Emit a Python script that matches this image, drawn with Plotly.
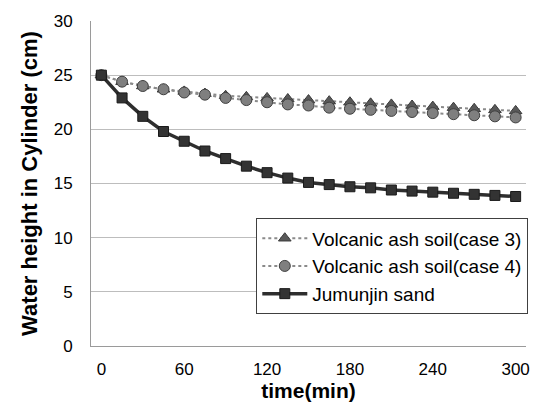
import plotly.graph_objects as go

time_min = [0, 15, 30, 45, 60, 75, 90, 105, 120, 135, 150, 165, 180, 195, 210, 225, 240, 255, 270, 285, 300]
case3 = [25.0, 24.4, 24.0, 23.7, 23.5, 23.3, 23.1, 23.0, 22.9, 22.8, 22.7, 22.6, 22.5, 22.4, 22.3, 22.2, 22.1, 22.0, 21.9, 21.8, 21.7]
case4 = [25.0, 24.4, 24.0, 23.7, 23.4, 23.2, 22.9, 22.7, 22.5, 22.3, 22.2, 22.0, 21.9, 21.8, 21.7, 21.6, 21.5, 21.4, 21.3, 21.2, 21.1]
jumunjin = [25.0, 22.9, 21.2, 19.8, 18.9, 18.0, 17.3, 16.6, 16.0, 15.5, 15.1, 14.9, 14.7, 14.6, 14.4, 14.3, 14.2, 14.1, 14.0, 13.9, 13.8]
x_ticks = [0, 60, 120, 180, 240, 300]
y_ticks = [0, 5, 10, 15, 20, 25, 30]

fig = go.Figure()
fig.add_trace(go.Scatter(
    x=time_min, y=case3, name="Volcanic ash soil(case 3)", mode="lines+markers",
    line=dict(color="#8a8a8a", width=2, dash="dot"),
    marker=dict(symbol="triangle-up", size=11, color="#595959", line=dict(color="#3a3a3a", width=1)),
))
fig.add_trace(go.Scatter(
    x=time_min, y=case4, name="Volcanic ash soil(case 4)", mode="lines+markers",
    line=dict(color="#8a8a8a", width=2, dash="dot"),
    marker=dict(symbol="circle", size=11, color="#7f7f7f", line=dict(color="#404040", width=1)),
))
fig.add_trace(go.Scatter(
    x=time_min, y=jumunjin, name="Jumunjin sand", mode="lines+markers",
    line=dict(color="#2e2e2e", width=3.5),
    marker=dict(symbol="square", size=10, color="#333333", line=dict(color="#1a1a1a", width=1)),
))

fig.update_layout(
    width=537, height=406,
    margin=dict(l=91, r=7, t=21, b=60),
    paper_bgcolor="white", plot_bgcolor="white",
    font=dict(family="Liberation Sans, Arial, sans-serif", size=17, color="#000000"),
    legend=dict(
        x=0.38, y=0.245, xanchor="left", yanchor="middle",
        bgcolor="white", bordercolor="#404040", borderwidth=1,
        font=dict(size=19), tracegroupgap=0, itemwidth=45,
    ),
    xaxis=dict(
        range=[-7.5, 307.5], tickvals=x_ticks, ticktext=[str(v) for v in x_ticks],
        showgrid=False, showline=True, linecolor="#9a9a9a", linewidth=1,
        ticks="", zeroline=False, ticklabelstandoff=8,
        title=dict(text="<b>time(min)</b>", font=dict(size=21), standoff=2),
        tickfont=dict(size=17),
    ),
    yaxis=dict(
        range=[0, 30], tickvals=y_ticks,
        showgrid=True, gridcolor="#bdbdbd", gridwidth=1,
        showline=True, linecolor="#9a9a9a", linewidth=1,
        ticks="", zeroline=False, ticklabelstandoff=14,
        title=dict(text="<b>Water height in Cylinder (cm)</b>", font=dict(size=22), standoff=9),
        tickfont=dict(size=17),
    ),
)

fig.write_html("out.html")
